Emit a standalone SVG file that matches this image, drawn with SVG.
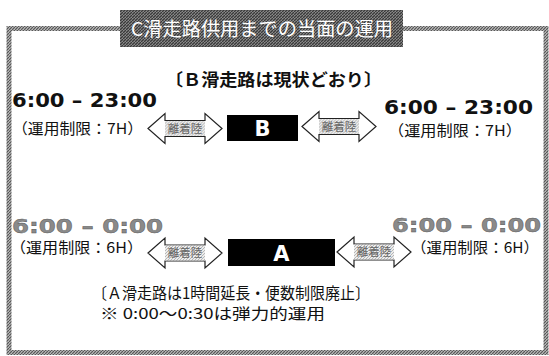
<svg xmlns="http://www.w3.org/2000/svg" width="549" height="356" viewBox="0 0 549 356">
<defs>
<pattern id="hatchBorder" width="3" height="3" patternUnits="userSpaceOnUse">
<rect width="3" height="3" fill="#b8b8b8"/>
<path d="M0,3 L3,0" stroke="#555" stroke-width="1.2"/>
</pattern>
<pattern id="hatchDark" width="3" height="3" patternUnits="userSpaceOnUse">
<rect width="3" height="3" fill="#8a8a8a"/>
<path d="M0,3 L3,0" stroke="#3a3a3a" stroke-width="1.3"/>
</pattern>
<pattern id="hatchLight" width="3" height="3" patternUnits="userSpaceOnUse">
<rect width="3" height="3" fill="#ececec"/>
<path d="M0,3 L3,0" stroke="#a8a8a8" stroke-width="0.8"/>
</pattern>
<path id="dblArrow" d="M0,0 L17,-15 L17,-8 L57,-8 L57,-15 L74,0 L57,15 L57,8 L17,8 L17,15 Z"/>
</defs>
<style>
.jp{font-family:"Noto Sans CJK JP","Noto Sans",sans-serif}
.time{font-family:"DejaVu Sans","Noto Sans",sans-serif;font-weight:bold;font-size:19px}
.lim{font-family:"Noto Sans CJK JP",sans-serif;font-size:15px;fill:#111}
.arr{fill:#fff;stroke:#222;stroke-width:1.2}
.shaft{fill:url(#hatchLight)}
.arrtxt{font-family:"Noto Sans CJK JP",sans-serif;font-size:11.5px;fill:#666;text-anchor:middle}
.rwy{fill:#000}
.rwytxt{font-family:"DejaVu Sans",sans-serif;font-weight:bold;font-size:21px;fill:#fff;text-anchor:middle}
</style>
<rect width="549" height="356" fill="#fff"/>
<g id="frame">
<rect x="9" y="28.5" width="537" height="324" fill="none" stroke="url(#hatchBorder)" stroke-width="5"/>
</g>
<g id="title">
<rect x="120" y="10" width="283" height="37" fill="url(#hatchDark)"/>
<text x="262" y="36" class="jp" font-size="19" fill="#fff" text-anchor="middle" textLength="262" lengthAdjust="spacingAndGlyphs">C滑走路供用までの当面の運用</text>
</g>
<g id="b-header">
<text x="165" y="86" class="jp" font-size="17" font-weight="bold" fill="#111" textLength="217" lengthAdjust="spacingAndGlyphs">〔Ｂ滑走路は現状どおり〕</text>
</g>
<g id="b-left-time">
<text x="12" y="107" class="time" fill="#111" textLength="145" lengthAdjust="spacingAndGlyphs">6:00 – 23:00</text>
<text x="12" y="134" class="lim" textLength="131" lengthAdjust="spacingAndGlyphs">（運用制限：7H）</text>
</g>
<g id="b-right-time">
<text x="384" y="114" class="time" fill="#111" textLength="149" lengthAdjust="spacingAndGlyphs">6:00 – 23:00</text>
<text x="388" y="136" class="lim" textLength="134" lengthAdjust="spacingAndGlyphs">（運用制限：7H）</text>
</g>
<g id="a-left-time">
<text x="12" y="233" class="time" fill="#8a8a8a" stroke="#555" stroke-width="0.4" textLength="151" lengthAdjust="spacingAndGlyphs">6:00 – 0:00</text>
<text x="10" y="253" class="lim" textLength="133" lengthAdjust="spacingAndGlyphs">（運用制限：6H）</text>
</g>
<g id="a-right-time">
<text x="392" y="232" class="time" fill="#8a8a8a" stroke="#555" stroke-width="0.4" textLength="149" lengthAdjust="spacingAndGlyphs">6:00 – 0:00</text>
<text x="411" y="253" class="lim" textLength="128" lengthAdjust="spacingAndGlyphs">（運用制限：6H）</text>
</g>
<g id="connectors">
<g transform="translate(148,128.5)"><use href="#dblArrow" class="arr"/><rect x="17" y="-7.4" width="40" height="14.8" class="shaft"/><text x="37" y="4" class="arrtxt">離着陸</text></g>
<g transform="translate(302,126.5)"><use href="#dblArrow" class="arr"/><rect x="17" y="-7.4" width="40" height="14.8" class="shaft"/><text x="37" y="4" class="arrtxt">離着陸</text></g>
<g transform="translate(148,253)"><use href="#dblArrow" class="arr"/><rect x="17" y="-7.4" width="40" height="14.8" class="shaft"/><text x="37" y="4" class="arrtxt">離着陸</text></g>
<g transform="translate(337,252)"><use href="#dblArrow" class="arr"/><rect x="17" y="-7.4" width="40" height="14.8" class="shaft"/><text x="37" y="4" class="arrtxt">離着陸</text></g>
</g>
<g id="runway-b">
<rect x="227" y="115" width="71" height="26" class="rwy"/>
<text x="262.5" y="136" class="rwytxt">B</text>
</g>
<g id="runway-a">
<rect x="228" y="239" width="107" height="27" class="rwy"/>
<text x="281.5" y="261" class="rwytxt">A</text>
</g>
<g id="a-note">
<text x="92" y="299" class="jp" font-size="16" fill="#111" textLength="278" lengthAdjust="spacingAndGlyphs">〔Ａ滑走路は1時間延長・便数制限廃止〕</text>
<text x="100" y="319" class="jp" font-size="15" fill="#111" textLength="225" lengthAdjust="spacingAndGlyphs">※ 0:00〜0:30は弾力的運用</text>
</g>
</svg>
